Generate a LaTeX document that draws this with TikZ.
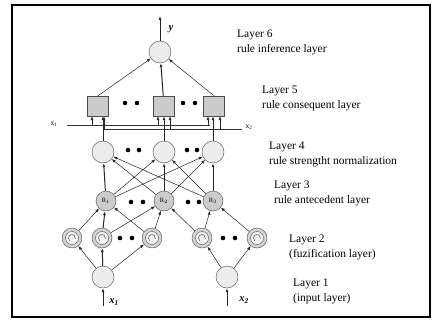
\documentclass[tikz,border=0pt]{standalone}
\usepackage{fontspec}
\setmainfont{Liberation Serif}
\usetikzlibrary{arrows.meta}

\begin{document}
\begin{tikzpicture}[x=1pt, y=-1pt,
        neuron/.style={circle, draw=gray!60!black, fill=gray!15, minimum size=22pt, inner sep=0pt},
        antnode/.style={circle, draw=gray!60!black, fill=gray!40, minimum size=20pt, inner sep=0pt, font=\fontsize{6.5}{6.5}\selectfont},
        fuzznode/.style={circle, draw=gray!60!black, fill=gray!35, minimum size=20pt, inner sep=0pt},
        consbox/.style={rectangle, draw=gray!60!black, fill=gray!40, minimum width=21pt, minimum height=20pt, inner sep=0pt},
        connector/.style={draw=gray!30!black, line width=0.5pt, -{Latex[length=4pt,width=3pt]}},
        heavy/.style={connector, line width=1pt},
        bus/.style={draw=gray!40!black, line width=0.7pt},
        varlabel/.style={font=\fontsize{10.5}{10.5}\selectfont\bfseries\itshape},
        layer/.style={anchor=north west, align=left, inner sep=0pt, font=\fontsize{11.5}{14.5}\selectfont}]
        % Frame
        \fill[white] (0,0) rectangle (435,321);
        \draw[line width=2pt] (12,5) rectangle (430,317);

        % Nodes
        \node[neuron] (Y) at (160,52) {};
        \node[consbox] (S1) at (98,106) {};
        \node[consbox] (S2) at (164,106) {};
        \node[consbox] (S3) at (214,106) {};
        \node[neuron] (N1) at (103,152) {};
        \node[neuron] (N2) at (164,152) {};
        \node[neuron] (N3) at (213,152) {};
        \node[antnode] (R1) at (106,201) {$\mathrm{R}_1$};
        \node[antnode] (R2) at (164,201) {$\mathrm{R}_2$};
        \node[antnode] (R3) at (213,201) {$\mathrm{R}_3$};
        \node[fuzznode] (F1) at (72,238) {};
        \node[fuzznode] (F2) at (102,238) {};
        \node[fuzznode] (F3) at (152,238) {};
        \node[fuzznode] (F4) at (202,238) {};
        \node[fuzznode] (F5) at (257,238) {};
        \node[neuron] (I1) at (103,277) {};
        \node[neuron] (I2) at (227,277) {};

        % membership symbol in layer 2
        \foreach \f in {F1, F2, F3, F4, F5} {
            \draw[gray!60!black, fill=gray!10] (\f) circle (6.5pt);
            \draw[gray!30!black] (\f) ++(230:3.5pt) arc[start angle=230, end angle=-10, radius=3.5pt];
        }

        % dots
        \foreach \x/\y in {125/103, 137/103, 183/103, 195/103, 128/150, 139/150, 187/150, 197/150,
            131/202, 143/202, 188/202, 199/202, 120/238, 132/238, 223/238, 235/238}
            \fill (\x,\y) circle (2.3pt);

        % Inputs and output
        \coordinate (in1) at (103,306);
        \coordinate (in2) at (227,306);
        \coordinate (out) at (160,16);
        \draw[heavy] (in1) -- (I1);
        \draw[heavy] (in2) -- (I2);
        \draw[heavy] (Y) -- (out);
        \node[varlabel] (x1lbl) at (114,302) {x\textsubscript{1}};
        \node[varlabel] (x2lbl) at (244,300) {x\textsubscript{2}};
        \node[varlabel] (ylbl) at (171,29) {y};

        % Edges: layer 1 -> layer 2
        \draw[connector] (I1) -- (F1);
        \draw[heavy] (I1) -- (F2);
        \draw[connector] (I1) -- (F3);
        \draw[connector] (I2) -- (F4);
        \draw[connector] (I2) -- (F5);

        % layer 2 -> layer 3
        \draw[connector] (F1) -- (R1);
        \draw[heavy] (F2) -- (R1);
        \draw[connector] (F2) -- (R2);
        \draw[connector] (F3) -- (R1);
        \draw[connector] (F3) -- (R2);
        \draw[connector] (F4) -- (R2);
        \draw[connector] (F4) -- (R3);
        \draw[connector] (F5) -- (R3);

        % layer 3 -> layer 4
        \foreach \i in {1,2,3}
            \foreach \j in {1,2,3} {
                \ifnum\i=\j
                    \draw[heavy] (R\i) -- (N\j);
                \else
                    \draw[connector] (R\i) -- (N\j);
                \fi
            }

        % layer 4 -> layer 5, with the x1 and x2 lines
        \coordinate (x1s) at (67,125);
        \coordinate (x1e) at (210,125);
        \coordinate (x2s) at (104,129);
        \coordinate (x2e) at (242,129);
        \draw[bus, line width=1pt] (x1s) -- (x1e);
        \draw[bus] (x2s) -- (x2e);
        \node[font=\fontsize{7.5}{7.5}\selectfont] (x1bus) at (54,124) {x\textsubscript{1}};
        \node[font=\fontsize{7.5}{7.5}\selectfont] (x2bus) at (249,127) {x\textsubscript{2}};
        \foreach \i in {1,2,3} {
            \draw[heavy] (N\i) -- (N\i |- S\i.south);
            \draw[connector] ([xshift=-6pt]S\i.south |- x1s) -- ([xshift=-6pt]S\i.south);
            \draw[connector] ([xshift=6pt]S\i.south |- x2s) -- ([xshift=6pt]S\i.south);
        }

        % layer 5 -> layer 6
        \draw[connector] (S1.north) -- (Y);
        \draw[heavy] (S2) -- (Y);
        \draw[connector] (S3.north) -- (Y);

        % Layer names
        \node[layer] (L6) at (237,30) {Layer 6\\rule inference layer};
        \node[layer] (L5) at (262,86) {Layer 5\\rule consequent layer};
        \node[layer] (L4) at (269,142) {Layer 4\\rule strengtht normalization};
        \node[layer] (L3) at (274,181) {Layer 3\\rule antecedent layer};
        \node[layer] (L2) at (289,235) {Layer 2\\(fuzification layer)};
        \node[layer] (L1) at (293,279) {Layer 1\\(input layer)};
\end{tikzpicture}
\end{document}
